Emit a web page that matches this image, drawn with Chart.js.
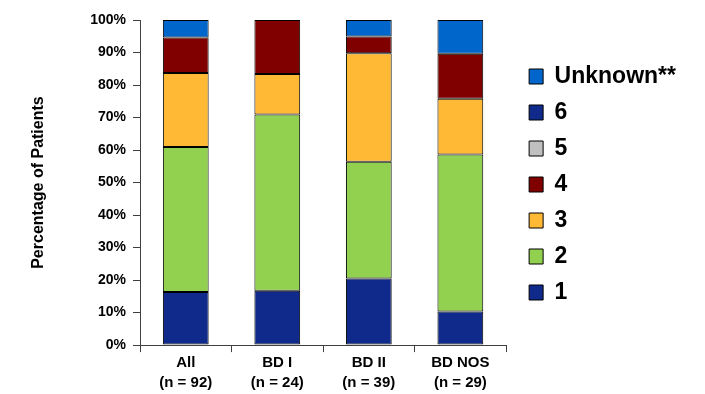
<!DOCTYPE html>
<html>
<head>
<meta charset="utf-8">
<script src="https://cdn.jsdelivr.net/npm/chart.js@4"></script>
<style>
  html, body { margin: 0; padding: 0; background: #fff; }
  #wrap { width: 705px; height: 394px; }
</style>
</head>
<body>
<div id="wrap"><canvas id="bar-chart"></canvas></div>
<script>
// ----------------- Data ---------------------------------------------//

const groups = [['All', '(n = 92)'], ['BD I', '(n = 24)'], ['BD II', '(n = 39)'], ['BD NOS', '(n = 29)']]

// percentage of patients in each group
const score1 = [16.3, 16.7, 20.5, 10.3]
const score2 = [44.6, 54.2, 35.9, 48.3]
const score3 = [22.8, 12.5, 33.4, 17.2]
const score4 = [10.9, 16.6, 5.1, 13.8]
const score5 = [0, 0, 0, 0]
const score6 = [0, 0, 0, 0]
const unknown = [5.4, 0, 5.1, 10.4]

const seriesNames = ['1', '2', '3', '4', '5', '6', 'Unknown**']
const seriesColors = ['#0F2A8A', '#92D050', '#FFB935', '#800000', '#C0C0C0', '#0F2A8A', '#0066CC']

const yTicks = [0, 10, 20, 30, 40, 50, 60, 70, 80, 90, 100]

const FONT = "'Liberation Sans', Arial, sans-serif"
const AXIS = '#404040'

Chart.defaults.font.family = FONT
Chart.defaults.color = '#000'

const plotData = () => {
  const ctx = document.getElementById('bar-chart')
  const values = [score1, score2, score3, score4, score5, score6, unknown]

  const datasets = values.map((v, i) => ({
    label: seriesNames[i],
    data: v,
    backgroundColor: seriesColors[i],
    borderColor: '#000',
    borderWidth: 1,
    borderSkipped: false,
    barPercentage: 0.5,
    categoryPercentage: 1,
  }))

  new Chart(ctx, {
    type: 'bar',
    data: { labels: groups, datasets: datasets },
    options: {
      responsive: true,
      maintainAspectRatio: false,
      animation: false,
      layout: { padding: { left: 0, top: 20, right: 19, bottom: 0 } },
      scales: {
        x: {
          stacked: true,
          border: { color: AXIS, width: 1 },
          grid: { drawOnChartArea: false, tickLength: 7, color: AXIS },
          ticks: {
            padding: 1,
            color: '#000',
            font: { size: 15, weight: 'bold', lineHeight: 1.33 },
          },
        },
        y: {
          stacked: true,
          min: 0,
          max: 100,
          border: { color: AXIS, width: 1 },
          grid: { drawOnChartArea: false, tickLength: 7, color: AXIS },
          afterBuildTicks: (axis) => {
            axis.ticks = yTicks.map((v) => ({ value: v }))
          },
          afterFit: (axis) => {
            axis.width = 140
          },
          ticks: {
            padding: 7,
            color: '#000',
            font: { size: 14, weight: 'bold' },
            callback: (v) => v + '%',
          },
          title: {
            display: true,
            text: 'Percentage of Patients',
            color: '#000',
            font: { size: 16, weight: 'bold' },
            padding: { top: 29, bottom: 40 },
          },
        },
        // empty spacer between the plot and the legend
        y2: {
          position: 'right',
          display: true,
          grid: { display: false },
          border: { display: false },
          ticks: { display: false },
          afterFit: (axis) => {
            axis.width = 10
          },
        },
      },
      plugins: {
        legend: {
          position: 'right',
          align: 'start',
          reverse: true,
          maxWidth: 220,
          title: { display: true, text: '', font: { size: 10 }, padding: { top: 20, bottom: 0 } },
          labels: {
            boxWidth: 14,
            boxHeight: 15,
            padding: 13,
            color: '#000',
            font: { size: 23, weight: 'bold' },
          },
        },
        tooltip: { enabled: false },
      },
    },
  })
}

plotData()
</script>
</body>
</html>
